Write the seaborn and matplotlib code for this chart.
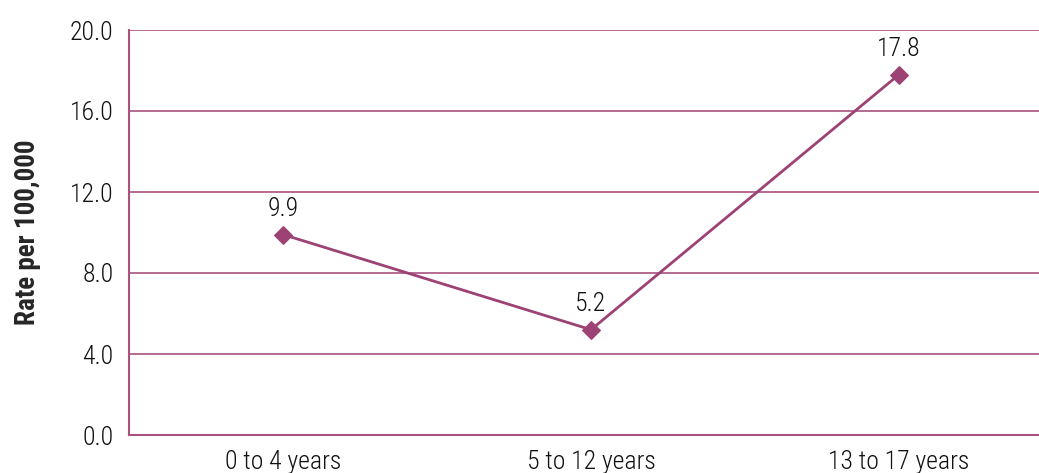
import matplotlib
matplotlib.use("Agg")
import matplotlib.pyplot as plt
from matplotlib import font_manager
import seaborn as sns
import pandas as pd

age_groups = ["0 to 4 years", "5 to 12 years", "13 to 17 years"]
rates = [9.9, 5.2, 17.8]
y_ticks = [0.0, 4.0, 8.0, 12.0, 16.0, 20.0]

sns.set_style("white")

# prefer a narrow sans face when one is available
installed = {f.name for f in font_manager.fontManager.ttflist}
narrow = [n for n in ["Liberation Sans Narrow", "Roboto Condensed",
                      "DejaVu Sans Condensed", "Open Sans Condensed"] if n in installed]
plt.rcParams["font.family"] = narrow + ["DejaVu Sans"]
condensed_ok = bool(narrow)

purple = "#9c4274"
grid_purple = "#a8527f"

df = pd.DataFrame({"age": age_groups, "rate": rates})

fig = plt.figure(figsize=(10.39, 4.73), dpi=100)
ax = fig.add_axes([129 / 1039, 38 / 473, 924 / 1039, 405 / 473])

sns.lineplot(data=df, x="age", y="rate", ax=ax, color=purple, linewidth=2,
             marker="D", markersize=9, markeredgecolor=purple, sort=False)

fs = 18.5 if condensed_ok else 15
for i, v in enumerate(rates):
    ax.annotate(f"{v:.1f}", (i, v), xytext=(0, 10), textcoords="offset points",
                ha="center", va="bottom", fontsize=fs, fontweight="light",
                color="#111111")

ax.set_xlim(-0.5, 2.5)
ax.set_ylim(0, 20)
ax.set_yticks(y_ticks)
ax.set_yticklabels([f"{t:.1f}" for t in y_ticks], fontsize=fs,
                   fontweight="light", color="#111111")
ax.set_xticks(range(len(age_groups)))
ax.set_xticklabels(age_groups, fontsize=fs, fontweight="light", color="#111111")
ax.tick_params(axis="y", length=0, pad=11)
ax.tick_params(axis="x", length=0, pad=11)
ax.set_xlabel("")
ax.set_ylabel("Rate per 100,000", fontsize=fs + 1, fontweight="bold", labelpad=21)

ax.grid(axis="y", color=grid_purple, linewidth=1.2)
ax.set_axisbelow(True)
for side in ["top", "right"]:
    ax.spines[side].set_visible(False)
for side in ["left", "bottom"]:
    ax.spines[side].set_color(grid_purple)
    ax.spines[side].set_linewidth(1.5)

fig.savefig("out.png", dpi=100)
